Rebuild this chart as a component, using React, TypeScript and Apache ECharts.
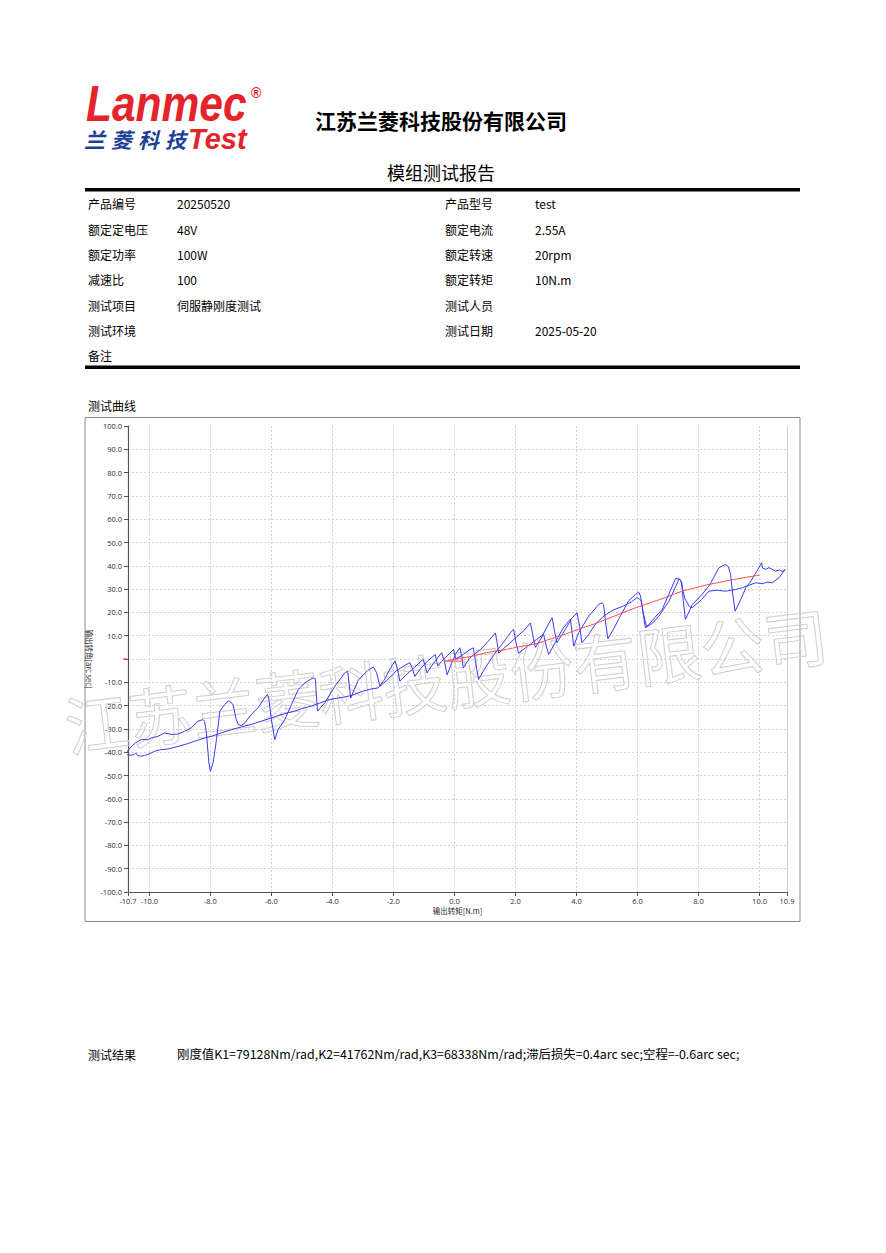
import React, { useEffect, useRef } from 'react';
import * as echarts from 'echarts';

// ---- measured curve data (torque N.m, angle arc sec) ----
const branchA: number[][] = [
  [-10.76, -40.3], [-10.6, -37.7], [-10.45, -36], [-10.27, -34.6], [-10.05, -34.6], [-9.94, -33.9], [-9.72, -33.2],
  [-9.5, -31.7], [-9.28, -32.4], [-9.06, -32.2], [-8.84, -31], [-8.63, -29.6], [-8.41, -26.7], [-8.24, -26],
  [-8.19, -26.7], [-8.13, -31.7], [-8.05, -44.6], [-8.0, -48.2], [-7.91, -44.6], [-7.8, -34.6], [-7.69, -22.4],
  [-7.53, -19.5], [-7.42, -18.1], [-7.37, -18.1], [-7.26, -19.5], [-7.15, -26], [-7.09, -28.1], [-6.98, -28.6],
  [-6.87, -27.4], [-6.66, -23.8], [-6.44, -21], [-6.22, -16.7], [-6.13, -15.2], [-6.09, -16.7], [-6.0, -26],
  [-5.89, -34.6], [-5.78, -30.3], [-5.56, -26], [-5.34, -19.5], [-5.12, -13.1], [-4.9, -10.2], [-4.63, -8.1],
  [-4.56, -8.5], [-4.49, -22.4], [-4.25, -18.8], [-3.92, -11.7], [-3.59, -5.9], [-3.5, -5.2], [-3.4, -16.7],
  [-3.15, -9], [-2.85, -5], [-2.66, -3.4], [-2.55, -6], [-2.44, -11.7], [-2.2, -9], [-1.9, -5], [-1.6, -2.5],
  [-1.46, -1.6], [-1.38, -4], [-1.3, -7.5], [-1.1, -4], [-0.85, -0.5], [-0.63, 1.9], [-0.58, -1], [-0.55, -3],
  [-0.35, 0], [-0.15, 2.5], [-0.03, 4.1], [0.0, 2], [0.05, 0], [0.3, 2], [0.5, 4], [0.62, 4.8], [0.7, -2],
  [0.79, -8.8], [1.0, -4], [1.3, 2], [1.6, 7], [1.85, 11.5], [1.94, 12.7], [2.02, 7], [2.1, 2.5], [2.4, 5.5],
  [2.7, 8.5], [2.92, 10.6], [3.0, 6], [3.09, 2], [3.3, 7], [3.55, 13], [3.74, 16.2], [3.8, 17], [3.86, 11],
  [3.91, 5.5], [4.07, 11.3], [4.4, 18.4], [4.73, 23.4], [4.84, 24.1], [4.89, 23.4], [4.96, 15], [5.03, 8.7],
  [5.2, 12.5], [5.38, 17], [5.71, 25], [5.93, 27.7], [6.04, 28.7], [6.1, 27], [6.18, 20], [6.26, 13.4],
  [6.5, 15.5], [6.7, 18.4], [7.03, 24.8], [7.25, 31], [7.36, 34.5], [7.45, 33], [7.5, 25], [7.57, 17],
  [7.8, 23.4], [8.1, 27.5], [8.34, 31.3], [8.5, 35], [8.67, 39.2], [8.89, 40.6], [8.98, 39.5], [9.05, 36.3],
  [9.12, 28], [9.2, 20.5], [9.4, 26], [9.55, 30.6], [9.72, 33.5], [9.88, 37], [10.07, 41.3], [10.1, 39],
  [10.2, 38.5], [10.31, 39.2], [10.42, 38.5], [10.53, 37.7], [10.65, 38.2], [10.75, 37.6], [10.84, 38.4],
];

const branchB: number[][] = [
  [-10.76, -41], [-10.62, -41.3], [-10.5, -41], [-10.45, -40.3], [-10.39, -41.4], [-10.27, -41.7], [-10.16, -41.4],
  [-10.05, -41], [-9.83, -39.6], [-9.61, -38.9], [-9.39, -38.6], [-9.06, -37.5], [-8.74, -36.3], [-8.52, -35.3],
  [-8.19, -33.9], [-7.97, -33.2], [-7.64, -31.7], [-7.31, -30.3], [-6.98, -29.1], [-6.66, -28.1], [-6.33, -26.7],
  [-6.0, -25.3], [-5.75, -24.2], [-5.52, -23.3], [-5.25, -22.4], [-4.97, -21.2], [-4.7, -20.2], [-4.43, -19],
  [-4.15, -17.6], [-3.88, -16.9], [-3.6, -16.3], [-3.34, -15.5], [-3.0, -13.8], [-2.7, -12.8], [-2.5, -12.4],
  [-2.3, -9], [-2.1, -4], [-1.95, -0.9], [-1.87, -4], [-1.79, -9.5], [-1.6, -7], [-1.3, -3.5], [-1.1, -1],
  [-1.02, -0.2], [-0.96, -3], [-0.9, -6], [-0.75, -3], [-0.55, 0.5], [-0.42, 2.7], [-0.33, -1], [-0.24, -6.8],
  [-0.1, -2], [0.05, 2.5], [0.18, 4.8], [0.24, 1], [0.29, -3.8], [0.5, 0.5], [0.85, 4], [1.1, 7.5], [1.34, 11.2],
  [1.4, 7], [1.45, 2.5], [1.7, 5.5], [2.0, 9], [2.3, 12.5], [2.49, 15.5], [2.57, 10], [2.65, 5], [2.85, 9],
  [3.0, 13], [3.2, 17.7], [3.28, 12], [3.36, 7], [3.6, 12], [3.85, 17.5], [4.02, 19.8], [4.1, 14], [4.18, 7],
  [4.4, 10.5], [4.62, 15], [4.9, 18.5], [5.2, 21], [5.5, 22.5], [5.8, 24.5], [6.0, 26.5], [6.12, 25], [6.2, 19],
  [6.3, 13.8], [6.55, 17.5], [6.81, 21.3], [7.0, 27], [7.25, 34.6], [7.41, 34], [7.55, 26], [7.7, 22.5],
  [7.79, 22], [8.1, 25.5], [8.34, 29.1], [8.6, 29.5], [8.89, 29.1], [9.2, 29.8], [9.44, 30.6], [9.66, 31.7],
  [9.88, 32.7], [10.1, 32.3], [10.25, 33], [10.42, 32.7], [10.64, 34.9], [10.84, 38.4],
];

const fitCurve: number[][] = [
  [-0.33, -0.9], [0.0, -0.2], [0.4, 0.8], [0.7, 1.6], [1.05, 2.7], [1.45, 3.6], [1.7, 4.1], [2.1, 5.2],
  [2.46, 6.0], [2.76, 6.9], [3.1, 8.4], [3.55, 10.3], [4.07, 12.8], [4.64, 15.3], [5.2, 18.2], [5.74, 21],
  [6.3, 23.6], [6.83, 26], [7.38, 28.7], [7.81, 30.3], [8.35, 32], [8.91, 33.5], [9.45, 34.8], [10.0, 36],
];
const fitStart: number[][] = [[-0.3, -0.9], [0.3, -0.9]];

const xMin = -10.7;
const xMax = 10.9;
const yMin = -100;
const yMax = 100;

const infoLeft: string[][] = [
  ['产品编号', '20250520'], ['额定定电压', '48V'], ['额定功率', '100W'], ['减速比', '100'],
  ['测试项目', '伺服静刚度测试'], ['测试环境', ''], ['备注', ''],
];
const infoRight: string[][] = [
  ['产品型号', 'test'], ['额定电流', '2.55A'], ['额定转速', '20rpm'], ['额定转矩', '10N.m'],
  ['测试人员', ''], ['测试日期', '2025-05-20'],
];
const resultText = '刚度值K1=79128Nm/rad,K2=41762Nm/rad,K3=68338Nm/rad;滞后损失=0.4arc sec;空程=-0.6arc sec;';

const CJK = '"Noto Sans CJK SC", "Noto Sans", sans-serif';
const LAT = '"Liberation Sans", Arial, sans-serif';

function txt(id: string, x: number, y: number, text: string, extra: any = {}, el: any = {}) {
  return {
    id, type: 'text', x, y, ...el,
    style: { text, fontSize: 12, fontFamily: CJK, fill: '#000', align: 'left', verticalAlign: 'middle', ...extra },
  };
}

export default function App() {
  const ref = useRef<HTMLDivElement>(null);
  useEffect(() => {
    document.body.style.margin = '0';
    const chart = echarts.init(ref.current as HTMLDivElement, null, { renderer: 'svg', width: 886, height: 1253 });

    const elements: any[] = [];
    // logo
    elements.push(txt('logo1', 86, 104, 'Lanmec', { fontSize: 50, fontFamily: LAT, fontWeight: 'bold', fontStyle: 'italic', fill: '#e4232b' }, { scaleX: 0.85 }));
    elements.push(txt('logoR', 251, 93, '®', { fontSize: 14, fontFamily: LAT, fontWeight: 'bold', fill: '#e4232b' }));
    const cn = ['兰', '菱', '科', '技'];
    const cnX = [84, 111, 138, 165];
    cn.forEach((c, i) => elements.push(txt('logoC' + i, cnX[i], 139, c, { fontSize: 21, fontWeight: 'bold', fontStyle: 'italic', fill: '#1d3f96' })));
    elements.push(txt('logoT', 188, 139, 'Test', { fontSize: 29, fontFamily: LAT, fontWeight: 'bold', fontStyle: 'italic', fill: '#e4232b' }));
    // titles
    elements.push(txt('company', 441, 120, '江苏兰菱科技股份有限公司', { fontSize: 21, fontWeight: 'bold', align: 'center' }));
    elements.push(txt('report', 441, 172, '模组测试报告', { fontSize: 18, align: 'center' }));
    elements.push({ id: 'bar1', type: 'rect', shape: { x: 85, y: 188, width: 715, height: 3.5 }, style: { fill: '#000' } });
    elements.push({ id: 'bar2', type: 'rect', shape: { x: 85, y: 365.5, width: 715, height: 3.5 }, style: { fill: '#000' } });
    const rowY = [203, 229, 254, 279, 305, 330, 355];
    infoLeft.forEach((r, i) => {
      elements.push(txt('ll' + i, 88, rowY[i], r[0]));
      if (r[1]) elements.push(txt('lv' + i, 177, rowY[i], r[1]));
    });
    infoRight.forEach((r, i) => {
      elements.push(txt('rl' + i, 445, rowY[i], r[0]));
      if (r[1]) elements.push(txt('rv' + i, 535, rowY[i], r[1]));
    });
    elements.push(txt('curveTitle', 88, 405, '测试曲线'));
    elements.push({ id: 'frame', type: 'rect', shape: { x: 85, y: 417.5, width: 715, height: 504 }, style: { fill: 'transparent', stroke: '#8a8a8a', lineWidth: 1 } });
    elements.push(txt('resLabel', 88, 1054, '测试结果'));
    elements.push(txt('resVal', 177, 1054, resultText, { fontSize: 12.4 }));
    elements.push({
      id: 'wm', type: 'text', x: 446, y: 678, rotation: 0.12, z: 1,
      style: { text: '江苏兰菱科技股份有限公司', fontSize: 64, fontFamily: CJK, fill: 'rgba(255,255,255,0)', stroke: '#cfcfcf', lineWidth: 1, align: 'center', verticalAlign: 'middle' },
    });

    const axisLabelStyle = { fontSize: 7.5, color: '#2a2a2a', fontFamily: '"Open Sans", "Noto Sans", sans-serif' };

    const option: any = {
      animation: false,
      backgroundColor: '#fff',
      grid: { left: 128, top: 426, width: 659, height: 466, containLabel: false },
      xAxis: {
        type: 'value', min: xMin, max: xMax, splitNumber: 10, minInterval: 2, maxInterval: 2,
        name: '输出转矩[N.m]', nameLocation: 'middle', nameGap: 15,
        nameTextStyle: { fontSize: 7.5, color: '#2a2a2a', fontFamily: CJK, verticalAlign: 'top' },
        axisLine: { onZero: false, lineStyle: { color: '#555', width: 1.2 } },
        axisTick: { show: true, length: 4, lineStyle: { color: '#555' } },
        axisLabel: { ...axisLabelStyle, margin: 5, showMinLabel: true, showMaxLabel: true, formatter: (v: number) => v.toFixed(1) },
        splitLine: { show: true, showMinLine: false, showMaxLine: false, lineStyle: { color: '#d2d2d2', type: [2, 2], width: 1 } },
      },
      yAxis: {
        type: 'value', min: yMin, max: yMax, interval: 10,
        name: '输出转角[arc sec]', nameLocation: 'middle', nameGap: 35, nameRotate: -90, nameMoveOverlap: false,
        nameTextStyle: { fontSize: 7.5, color: '#2a2a2a', fontFamily: CJK },
        axisLine: { show: true, onZero: false, lineStyle: { color: '#555', width: 1.2 } },
        axisTick: { show: true, length: 4, lineStyle: { color: '#555' } },
        axisLabel: { ...axisLabelStyle, margin: 6, showMinLabel: true, showMaxLabel: true, formatter: (v: number) => (v === 0 ? '' : v.toFixed(1)) },
        splitLine: { show: true, showMinLine: false, showMaxLine: false, lineStyle: { color: '#d2d2d2', type: [2, 2], width: 1 } },
      },
      graphic: { elements },
      series: [
        {
          type: 'line', name: 'A', data: branchA, showSymbol: false, symbol: 'none', z: 3,
          lineStyle: { color: '#3b3bf5', width: 1 },
          markLine: {
            silent: true, symbol: ['none', 'none'], label: { show: false },
            lineStyle: { color: '#cfcfcf', type: 'solid', width: 1 },
            data: [{ xAxis: xMax }],
          },
        },
        { type: 'line', name: 'B', data: branchB, showSymbol: false, symbol: 'none', z: 3, lineStyle: { color: '#3b3bf5', width: 1 } },
        { type: 'line', name: 'fit0', data: fitStart, showSymbol: false, symbol: 'none', z: 4, lineStyle: { color: '#ff4a4a', width: 1 } },
        { type: 'line', name: 'fit', data: fitCurve, showSymbol: false, symbol: 'none', z: 4, smooth: true, lineStyle: { color: '#ff4a4a', width: 1 } },
      ],
    };
    chart.setOption(option);
    const p = chart.convertToPixel({ gridIndex: 0 }, [xMin, 0]) as number[];
    chart.setOption({
      graphic: {
        elements: [
          { id: 'zeroTick', type: 'line', shape: { x1: p[0] - 5, y1: p[1], x2: p[0] - 1, y2: p[1] }, style: { stroke: '#ff3a3a', lineWidth: 1.2 }, z: 10 },
        ],
      },
    });
    return () => chart.dispose();
  }, []);
  return <div ref={ref} style={{ width: 886, height: 1253 }} />;
}
